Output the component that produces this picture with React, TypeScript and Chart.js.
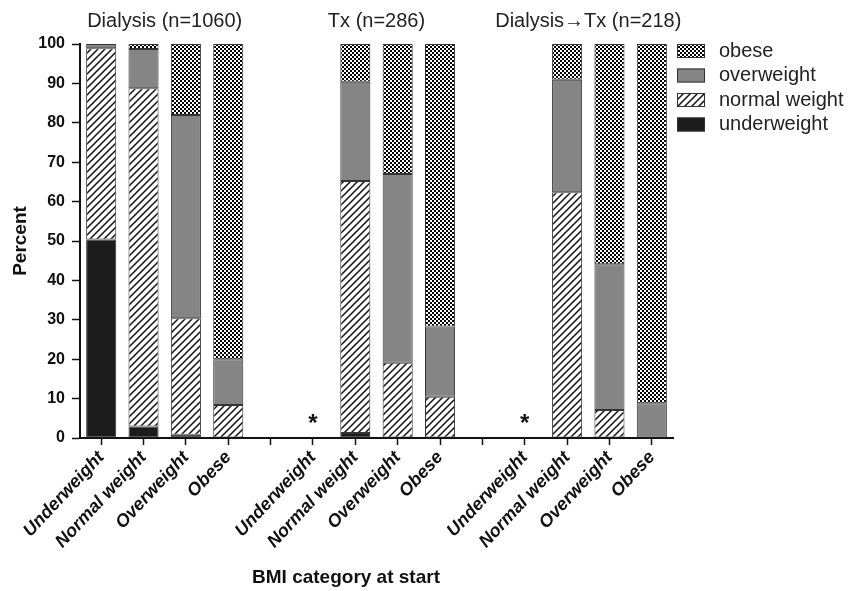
import React, { useEffect, useRef } from 'react';
import { Chart, registerables } from 'chart.js';
Chart.register(...registerables);

const categories = [
  'Underweight', 'Normal weight', 'Overweight', 'Obese', '',
  'Underweight', 'Normal weight', 'Overweight', 'Obese', '',
  'Underweight', 'Normal weight', 'Overweight', 'Obese',
];
const groupOf = [0, 0, 0, 0, null, 1, 1, 1, 1, null, 2, 2, 2, 2];
const groupTitles = ['Dialysis (n=1060)', 'Tx (n=286)', 'Dialysis\u2192Tx (n=218)'];
const markers = ['', '', '', '', '', '*', '', '', '', '', '*', '', '', ''];
const markerValue = 5;

const underweight = [50.4, 2.9, 0.8, null, null, null, 1.3, null, null, null, null, null, null, null];
const normalWeight = [48.5, 85.9, 29.6, 8.4, null, null, 63.9, 19.1, 10.5, null, null, 62.4, 7.1, null];
const overweight = [1.1, 9.9, 51.6, 11.6, null, null, 25.2, 47.9, 17.8, null, null, 28.5, 37.0, 8.8];
const obese = [null, 1.3, 18.0, 80.0, null, null, 9.6, 33.0, 71.7, null, null, 9.1, 55.9, 91.2];

const seriesLabels = ['underweight', 'normal weight', 'overweight', 'obese'];
const yTicks = [0, 10, 20, 30, 40, 50, 60, 70, 80, 90, 100];

const FONT = '"Liberation Sans", Arial, Helvetica, sans-serif';

function makeHatch(): CanvasPattern | string {
  const c = document.createElement('canvas');
  c.width = 7; c.height = 7;
  const g = c.getContext('2d')!;
  g.fillStyle = '#fff';
  g.fillRect(0, 0, 7, 7);
  g.strokeStyle = '#111';
  g.lineWidth = 1.5;
  g.beginPath();
  g.moveTo(-1, 8); g.lineTo(8, -1);
  g.moveTo(-4, 4); g.lineTo(4, -4);
  g.moveTo(3, 11); g.lineTo(11, 3);
  g.stroke();
  return g.createPattern(c, 'repeat') || '#fff';
}

function makeChecker(): CanvasPattern | string {
  const c = document.createElement('canvas');
  c.width = 4; c.height = 4;
  const g = c.getContext('2d')!;
  g.fillStyle = '#fff';
  g.fillRect(0, 0, 4, 4);
  g.fillStyle = '#000';
  g.fillRect(0, 0, 2, 2);
  g.fillRect(2, 2, 2, 2);
  return g.createPattern(c, 'repeat') || '#888';
}

export default function App() {
  const ref = useRef<HTMLCanvasElement | null>(null);
  useEffect(() => {
    if (!ref.current) return;
    const hatch = makeHatch();
    const checker = makeChecker();
    const fills = ['#1c1c1c', hatch, '#858585', checker];
    const values = [underweight, normalWeight, overweight, obese];

    const overlay = {
      id: 'overlay',
      afterDraw(chart: any) {
        const ctx = chart.ctx;
        const xs = chart.scales.x;
        const ys = chart.scales.y;
        ctx.save();
        // group titles
        ctx.font = `20px ${FONT}`;
        ctx.fillStyle = '#222';
        ctx.textAlign = 'center';
        ctx.textBaseline = 'middle';
        groupTitles.forEach((t, gi) => {
          const idx = groupOf.map((g, i) => (g === gi ? i : -1)).filter((i) => i >= 0);
          const x0 = xs.getPixelForValue(idx[0]);
          const x1 = xs.getPixelForValue(idx[idx.length - 1]);
          ctx.fillText(t, (x0 + x1) / 2, 21);
        });
        // markers
        ctx.font = `bold 24px ${FONT}`;
        ctx.fillStyle = '#111';
        ctx.textBaseline = 'alphabetic';
        markers.forEach((m, i) => {
          if (!m) return;
          const mt = ctx.measureText(m);
          const cy = ys.getPixelForValue(markerValue);
          const off = (mt.actualBoundingBoxAscent - mt.actualBoundingBoxDescent) / 2;
          ctx.fillText(m, xs.getPixelForValue(i), cy + off);
        });
        // legend
        const lx = 677;
        const rowY = [51, 75.5, 100, 124.5];
        ctx.font = `20px ${FONT}`;
        ctx.textAlign = 'left';
        ctx.textBaseline = 'middle';
        for (let k = 0; k < 4; k++) {
          const di = 3 - k;
          const y = rowY[k];
          ctx.fillStyle = fills[di] as any;
          ctx.fillRect(lx, y - 7, 28, 14);
          ctx.strokeStyle = '#333';
          ctx.lineWidth = 1;
          ctx.strokeRect(lx + 0.5, y - 6.5, 27, 13);
          ctx.fillStyle = '#222';
          ctx.fillText(seriesLabels[di], lx + 42, y);
        }
        // x title
        ctx.font = `bold 19px ${FONT}`;
        ctx.fillStyle = '#111';
        ctx.textAlign = 'center';
        ctx.fillText('BMI category at start', 346, 578);
        ctx.restore();
      },
    };

    const chart = new Chart(ref.current, {
      type: 'bar',
      data: {
        labels: categories,
        datasets: values.map((v, i) => ({
          label: seriesLabels[i],
          data: v,
          backgroundColor: fills[i] as any,
          borderColor: '#333',
          borderWidth: 1,
          borderSkipped: false,
          categoryPercentage: 1,
          barPercentage: 0.71,
        })),
      },
      options: {
        responsive: false,
        animation: false,
        layout: { padding: { top: 44, right: 177, left: 0, bottom: 0 } },
        plugins: {
          legend: { display: false },
          tooltip: { enabled: false },
        },
        scales: {
          x: {
            stacked: true,
            afterFit: (s: any) => { s.height = 153; },
            grid: { drawOnChartArea: false, tickLength: 7, tickColor: '#111', tickWidth: 1.5, offset: false },
            border: { color: '#111', width: 2 },
            ticks: {
              autoSkip: false,
              maxRotation: 47,
              minRotation: 47,
              padding: 2,
              color: '#111',
              font: { family: FONT, size: 18, weight: 'bold', style: 'italic' },
            },
          },
          y: {
            stacked: true,
            min: 0,
            max: 100,
            afterFit: (s: any) => { s.width = 80; },
            afterBuildTicks: (s: any) => { s.ticks = yTicks.map((v) => ({ value: v })); },
            grid: { drawOnChartArea: false, tickLength: 8, tickColor: '#111', tickWidth: 1.5 },
            border: { color: '#111', width: 2 },
            ticks: {
              padding: 7,
              color: '#111',
              font: { family: FONT, size: 16, weight: 'bold' },
            },
            title: {
              display: true,
              text: 'Percent',
              color: '#111',
              padding: { top: 9, bottom: 0 },
              font: { family: FONT, size: 19, weight: 'bold' },
            },
          },
        },
      },
      plugins: [overlay],
    } as any);
    return () => chart.destroy();
  }, []);
  return (
    <div style={{ position: 'fixed', left: 0, top: 0, width: 850, height: 591, background: '#fff' }}>
      <canvas ref={ref} width={850} height={591} style={{ display: 'block' }} />
    </div>
  );
}
